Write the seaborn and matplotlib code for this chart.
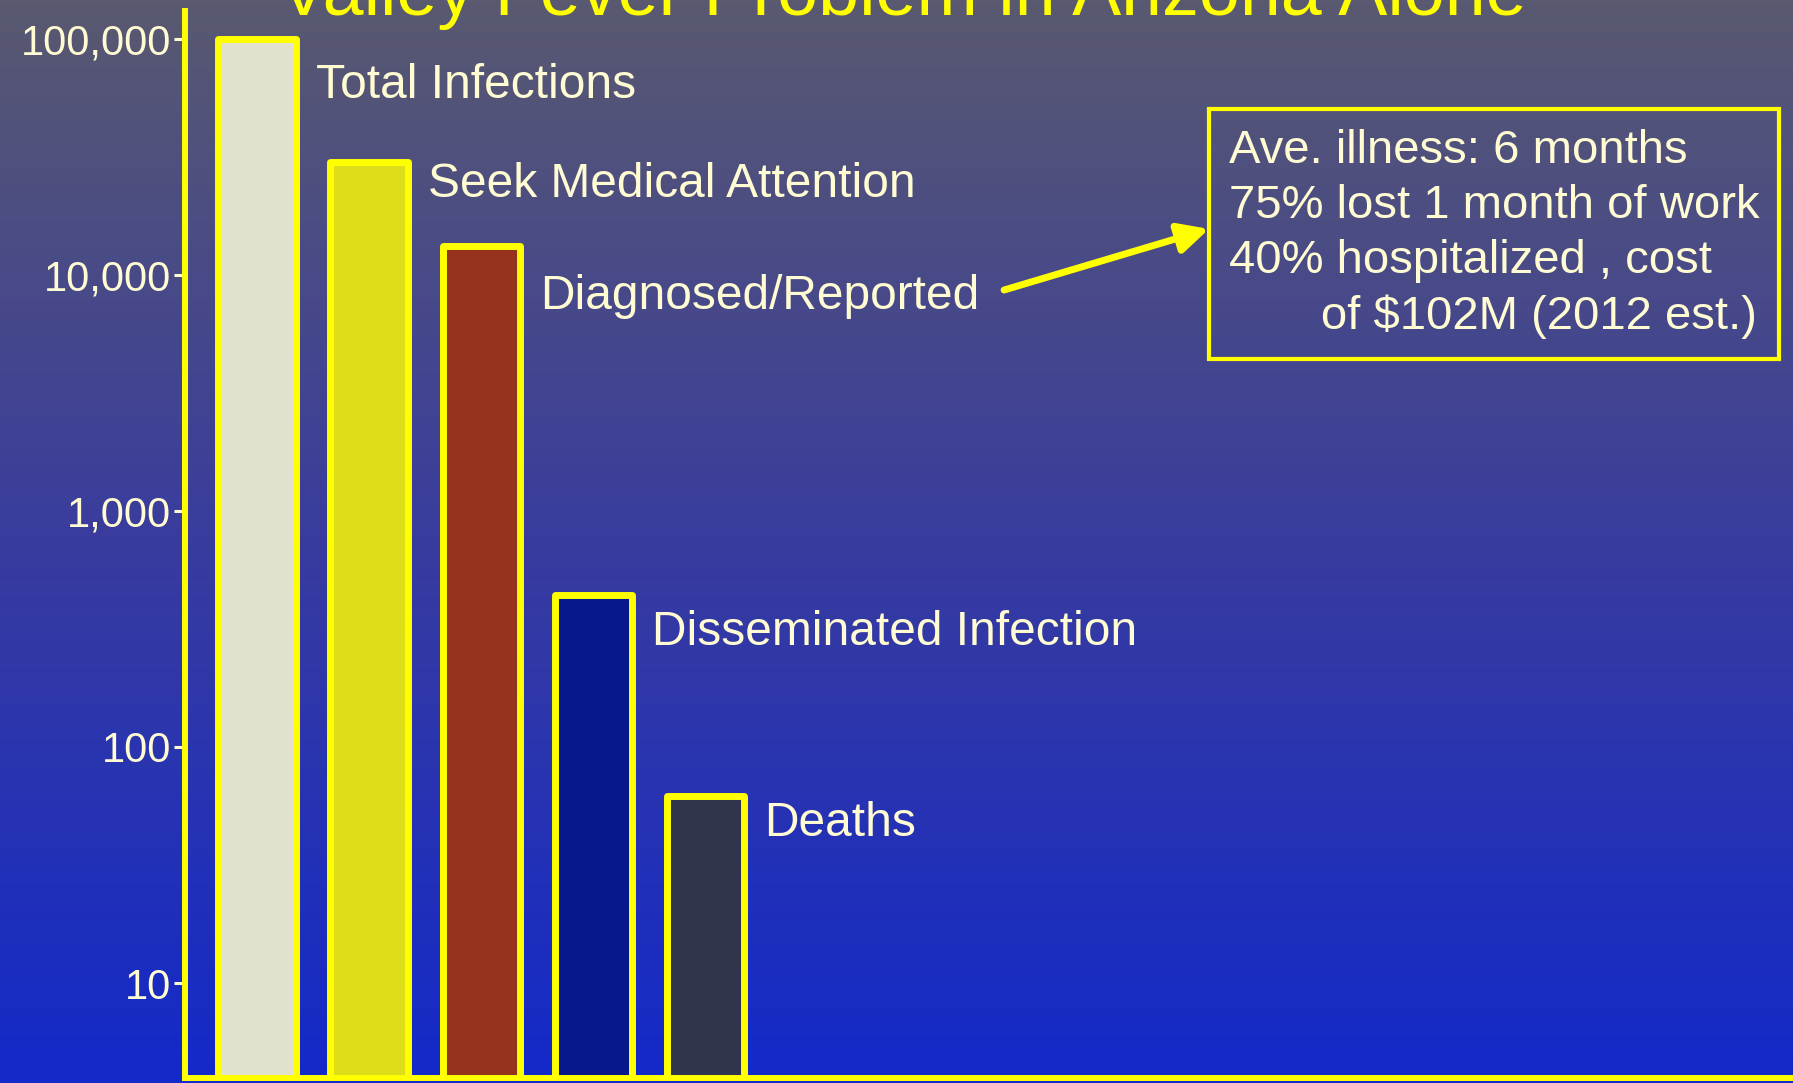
import numpy as np
import pandas as pd
import seaborn as sns
import matplotlib.pyplot as plt
from matplotlib.colors import LinearSegmentedColormap

# data
categories = ["Total Infections", "Seek Medical Attention", "Diagnosed/Reported",
              "Disseminated Infection", "Deaths"]
cases = [100000, 30000, 13300, 440, 62]
bar_colors = ["#e1e1cd", "#dedd1a", "#95331c", "#06188a", "#30344c"]
y_ticks = [10, 100, 1000, 10000, 100000]
y_tick_labels = ["10", "100", "1,000", "10,000", "100,000"]
title = "Valley Fever Problem in Arizona Alone"
note_lines = ["Ave. illness: 6 months", "75% lost 1 month of work",
              "40% hospitalized , cost", "       of $102M (2012 est.)"]

# how far (px) each label sits below the top of its bar
label_drop = [47, 22, 51, 37, 28]

YELLOW = "#ffff00"
CREAM = "#fffbd2"

sns.set_style("ticks")
plt.rcParams["font.family"] = ["Liberation Sans", "DejaVu Sans"]

df = pd.DataFrame({"category": categories, "cases": cases})

fig = plt.figure(figsize=(17.93, 10.83), dpi=100)

# slide background: vertical gradient grey-violet -> blue
bg = fig.add_axes([0, 0, 1, 1], zorder=-10)
grad = LinearSegmentedColormap.from_list("slide", ["#595970", "#393c9e", "#1329c9"])
bg.imshow(np.linspace(0, 1, 256).reshape(-1, 1), aspect="auto", cmap=grad, extent=[0, 1, 0, 1])
bg.axis("off")

ax = fig.add_axes([0.1032, 0.0046, 0.8968, 0.9852])
ax.set_facecolor("none")

sns.barplot(data=df, x="category", y="cases", hue="category", palette=bar_colors,
            legend=False, width=0.69, saturation=1, errorbar=None,
            edgecolor=YELLOW, linewidth=5, ax=ax)
ax.set_yscale("log")
for p in ax.patches:
    p.set_joinstyle("round")

ax.set_ylim(3.96, 131000)
ax.set_xlim(-0.64, 13.69)
ax.set_xticks([])
ax.set_yticks(y_ticks)
ax.set_yticklabels(y_tick_labels)
ax.minorticks_off()
ax.set_xlabel("")
ax.set_ylabel("")
ax.tick_params(axis="y", colors=CREAM, labelsize=30, length=8, width=2.2, pad=2)

for side in ["top", "right"]:
    ax.spines[side].set_visible(False)
for side in ["left", "bottom"]:
    ax.spines[side].set_color(YELLOW)
    ax.spines[side].set_linewidth(4.3)

for i, (name, val, drop) in enumerate(zip(categories, cases, label_drop)):
    ax.annotate(name, xy=(i + 0.345, val), xytext=(20, -drop), textcoords="offset pixels",
                ha="left", va="center", fontsize=34.5, color=CREAM)

fig.text(0.5036, 1 - 15 / 1083, title, ha="center", va="baseline", fontsize=53, color=YELLOW)

fig.text(0.6855, 1 - 129 / 1083, "\n".join(note_lines), ha="left", va="top",
         fontsize=34, color=CREAM, linespacing=1.33,
         bbox=dict(boxstyle="square,pad=0.42", fc="none", ec=YELLOW, lw=3))

ax.annotate("", xy=(0.6743, 0.7886), xytext=(0.560, 0.7322),
            xycoords="figure fraction", textcoords="figure fraction", annotation_clip=False,
            arrowprops=dict(arrowstyle="-|>", color=YELLOW, lw=5, mutation_scale=45,
                            shrinkA=0, shrinkB=0))

plt.savefig("out.png", dpi=100)
